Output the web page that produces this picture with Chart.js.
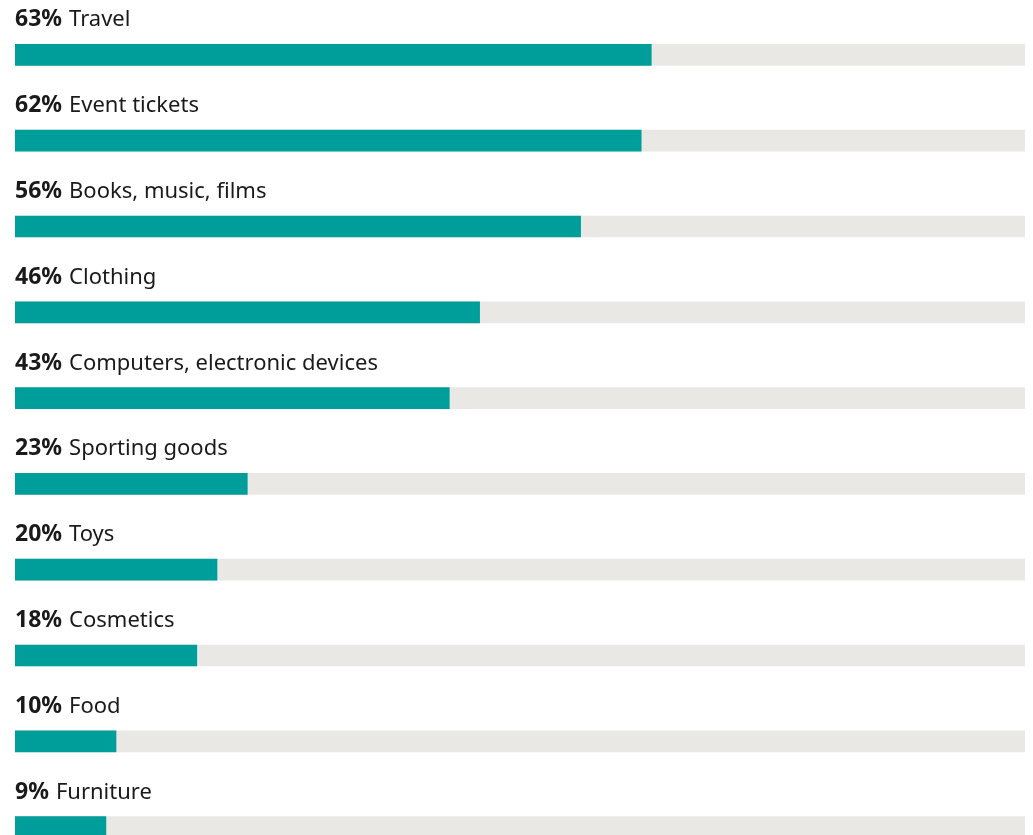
<!DOCTYPE html>
<html>
<head>
<meta charset="utf-8">
<script src="https://cdn.jsdelivr.net/npm/chart.js@4/dist/chart.umd.min.js"></script>
<style>
    html, body { margin: 0; padding: 0; background: #fff; overflow: hidden; }
    #wrap { position: relative; width: 1033px; height: 870px; }
</style>
</head>
<body>
<div id="wrap"><canvas id="chart"></canvas></div>
<script>
// === Data ===
const categories = ['Travel', 'Event tickets', 'Books, music, films', 'Clothing',
    'Computers, electronic devices', 'Sporting goods', 'Toys', 'Cosmetics', 'Food', 'Furniture'];
const shares = [63, 62, 56, 46, 43, 23, 20, 18, 10, 9];
const fullScale = [100, 100, 100, 100, 100, 100, 100, 100, 100, 100];

const FONT = '"Noto Sans", "Open Sans", sans-serif';

// labels above each bar: bold percentage + category name
const rowLabels = {
    id: 'rowLabels',
    afterDatasetsDraw(chart) {
        const ctx = chart.ctx;
        const meta = chart.getDatasetMeta(0);
        ctx.save();
        ctx.textBaseline = 'alphabetic';
        ctx.fillStyle = '#1a1a1a';
        meta.data.forEach((bar, i) => {
            const top = bar.y - bar.height / 2;
            const y = top - 18;
            const x = chart.chartArea.left;
            const pct = shares[i] + '%';
            ctx.font = 'bold 23px ' + FONT;
            ctx.fillText(pct, x, y);
            const w = ctx.measureText(pct).width + 7;
            ctx.font = '22px ' + FONT;
            ctx.fillText(categories[i], x + w, y);
        });
        ctx.restore();
    }
};

const ctx = document.getElementById('chart').getContext('2d');
new Chart(ctx, {
    type: 'bar',
    data: {
        labels: categories,
        datasets: [
            { data: shares, backgroundColor: '#009e9a', barThickness: 21, grouped: false },
            { data: fullScale, backgroundColor: '#e9e8e4', barThickness: 21, grouped: false }
        ]
    },
    options: {
        indexAxis: 'y',
        responsive: true,
        maintainAspectRatio: false,
        animation: false,
        layout: { padding: { left: 15, right: 8, top: 12, bottom: 0 } },
        scales: {
            x: { display: false, min: 0, max: 100 },
            y: { display: false }
        },
        plugins: {
            legend: { display: false },
            tooltip: { enabled: false }
        }
    },
    plugins: [rowLabels]
});
</script>
</body>
</html>
